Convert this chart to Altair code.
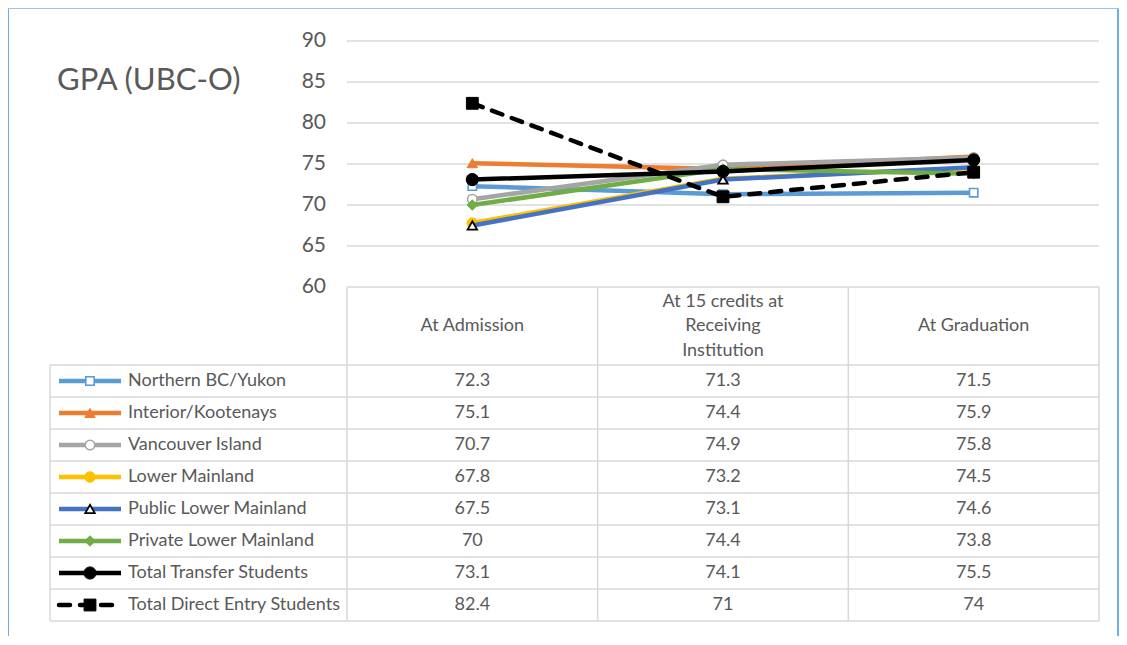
import altair as alt
import pandas as pd

TITLE = "GPA (UBC-O)"
CATEGORIES = ["At Admission", "At 15 credits at\nReceiving\nInstitution", "At Graduation"]
SERIES = ["Northern BC/Yukon", "Interior/Kootenays", "Vancouver Island", "Lower Mainland",
          "Public Lower Mainland", "Private Lower Mainland", "Total Transfer Students",
          "Total Direct Entry Students"]
NORTHERN = [72.3, 71.3, 71.5]
INTERIOR = [75.1, 74.4, 75.9]
VANCOUVER = [70.7, 74.9, 75.8]
LOWER = [67.8, 73.2, 74.5]
PUBLIC_LOWER = [67.5, 73.1, 74.6]
PRIVATE_LOWER = [70, 74.4, 73.8]
TOTAL_TRANSFER = [73.1, 74.1, 75.5]
DIRECT_ENTRY = [82.4, 71, 74]
VALUES = [NORTHERN, INTERIOR, VANCOUVER, LOWER, PUBLIC_LOWER, PRIVATE_LOWER,
          TOTAL_TRANSFER, DIRECT_ENTRY]
Y_TICKS = [60, 65, 70, 75, 80, 85, 90]

# ---- styles -------------------------------------------------------------
STYLES = [
    dict(color="#5B9BD5", shape="square", fill="white", stroke="#5B9BD5", size=70, sw=1.6, dash=None),
    dict(color="#ED7D31", shape="triangle-up", fill="#ED7D31", stroke="#ED7D31", size=110, sw=1, dash=None),
    dict(color="#A5A5A5", shape="circle", fill="white", stroke="#A5A5A5", size=90, sw=1.6, dash=None),
    dict(color="#FFC000", shape="circle", fill="#FFC000", stroke="#FFC000", size=110, sw=1, dash=None),
    dict(color="#4472C4", shape="triangle-up", fill="white", stroke="black", size=90, sw=1.8, dash=None),
    dict(color="#70AD47", shape="diamond", fill="#70AD47", stroke="#70AD47", size=110, sw=1, dash=None),
    dict(color="black", shape="circle", fill="black", stroke="black", size=150, sw=1, dash=None),
    dict(color="black", shape="square", fill="black", stroke="black", size=140, sw=1, dash=[11, 10]),
]
FONT = "Lato"
TXT = "#595959"
GRID = "#D9D9D9"
FRAME = "#4A9BDB"
TABLE_FS = 18
LINE_H = 24.5

# ---- layout helpers (pixel geometry of the Excel frame) -----------------
PX_PER_UNIT = 246 / 30.0          # y pixels per GPA point
COL_PX = 752 / 3.0                # width of one category column
LEGEND_LEFT = -297 / COL_PX       # left edge of the legend column (in column units)
HEADER_BOTTOM = 60 - 78 / PX_PER_UNIT
ROW_H = 32 / PX_PER_UNIT

XS = alt.Scale(domain=[0, 3], range=[339, 1091], nice=False, zero=False)
YS = alt.Scale(domain=[60, 90], range=[279, 33], nice=False, zero=False)

def X(f):
    return alt.X(f, type="quantitative", scale=XS, axis=None)

def Y(f):
    return alt.Y(f, type="quantitative", scale=YS, axis=None)

one = pd.DataFrame({"a": [0]})

# frame
frame = alt.layer(
    alt.Chart(one).mark_rule(color=FRAME, strokeWidth=1.6).encode(
        x=alt.value(0), y=alt.value(-1), y2=alt.value(640)),
    alt.Chart(one).mark_rule(color=FRAME, strokeWidth=1.6).encode(
        x=alt.value(1110), y=alt.value(-1), y2=alt.value(640)),
    alt.Chart(one).mark_rule(color="#9DC3E6", strokeWidth=2).encode(
        x=alt.value(0), x2=alt.value(1111), y=alt.value(0)),
)

title = alt.Chart(one).mark_text(
    text=TITLE, font=FONT, fontSize=31, color=TXT, align="left", baseline="middle"
).encode(x=alt.value(49), y=alt.value(73))

# gridlines
grid_df = pd.DataFrame({"y": Y_TICKS[1:], "x0": 0, "x1": 3})
grid = alt.Chart(grid_df).mark_rule(color=GRID, strokeWidth=1.3).encode(
    x=X("x0"), x2="x1", y=Y("y"))

ylab_df = pd.DataFrame({"y": Y_TICKS, "x": 0, "t": [str(v) for v in Y_TICKS]})
ylabels = alt.Chart(ylab_df).mark_text(
    font=FONT, fontSize=21, color=TXT, align="right", baseline="middle", dx=-21
).encode(x=X("x"), y=Y("y"), text="t:N")

# table lines
n = len(SERIES)
row_bounds = [HEADER_BOTTOM - k * ROW_H for k in range(n + 1)]
h_rows = [dict(x0=0, x1=3, y=60)] + [dict(x0=LEGEND_LEFT, x1=3, y=b) for b in row_bounds]
v_rows = [dict(x=LEGEND_LEFT, y0=HEADER_BOTTOM, y1=row_bounds[-1])] + \
         [dict(x=c, y0=60, y1=row_bounds[-1]) for c in range(4)]
hlines = alt.Chart(pd.DataFrame(h_rows)).mark_rule(color=GRID, strokeWidth=1.5).encode(
    x=X("x0"), x2="x1", y=Y("y"))
vlines = alt.Chart(pd.DataFrame(v_rows)).mark_rule(color=GRID, strokeWidth=1.5).encode(
    x=X("x"), y=Y("y0"), y2="y1")

# header (multi-line labels split into centred lines)
head_mid = (60 + HEADER_BOTTOM) / 2
head_rows = []
for i, cat in enumerate(CATEGORIES):
    parts = cat.split("\n")
    m = len(parts)
    for j, p in enumerate(parts):
        head_rows.append(dict(x=i + 0.5, y=head_mid - (j - (m - 1) / 2) * LINE_H / PX_PER_UNIT, t=p))
header = alt.Chart(pd.DataFrame(head_rows)).mark_text(
    font=FONT, fontSize=TABLE_FS, color=TXT, align="center", baseline="middle"
).encode(x=X("x"), y=Y("y"), text="t:N")

centers = [HEADER_BOTTOM - (k + 0.5) * ROW_H for k in range(n)]
cell_rows = []
for k, (s, vals) in enumerate(zip(SERIES, VALUES)):
    for i, v in enumerate(vals):
        cell_rows.append(dict(x=i + 0.5, y=centers[k], t=str(v)))
cells = alt.Chart(pd.DataFrame(cell_rows)).mark_text(
    font=FONT, fontSize=TABLE_FS, color=TXT, align="center", baseline="middle"
).encode(x=X("x"), y=Y("y"), text="t:N")

leg_df = pd.DataFrame({"x": LEGEND_LEFT, "y": centers, "t": SERIES})
legtext = alt.Chart(leg_df).mark_text(
    font=FONT, fontSize=TABLE_FS, color=TXT, align="left", baseline="middle", dx=78
).encode(x=X("x"), y=Y("y"), text="t:N")

layers = [frame, title, grid, ylabels, hlines, vlines, header, cells, legtext]

# legend samples and series
for k, (s, vals, st) in enumerate(zip(SERIES, VALUES, STYLES)):
    line_kw = dict(color=st["color"], strokeWidth=4.5)
    if st["dash"]:
        line_kw["strokeDash"] = st["dash"]
        line_kw["strokeCap"] = "round"
    pt_kw = dict(shape=st["shape"], filled=True, fill=st["fill"], stroke=st["stroke"],
                 strokeWidth=st["sw"], size=st["size"], opacity=1)
    ld = pd.DataFrame({"y": [centers[k]]})
    layers.append(alt.Chart(ld).mark_rule(**line_kw).encode(
        x=alt.value(51), x2=alt.value(113), y=Y("y")))
    layers.append(alt.Chart(ld).mark_point(**pt_kw).encode(x=alt.value(82), y=Y("y")))
    sd = pd.DataFrame({"x": [i + 0.5 for i in range(3)], "v": vals, "series": s})
    layers.append(alt.Chart(sd).mark_line(**line_kw).encode(x=X("x"), y=Y("v")))
    layers.append(alt.Chart(sd).mark_point(**pt_kw).encode(x=X("x"), y=Y("v")))

chart = alt.layer(*layers).properties(
    width=1111, height=628, autosize=alt.AutoSizeParams(type="none"), padding=0
).configure_view(stroke=None)

chart.save("out.html", embed_options={"renderer": "svg", "actions": False})
